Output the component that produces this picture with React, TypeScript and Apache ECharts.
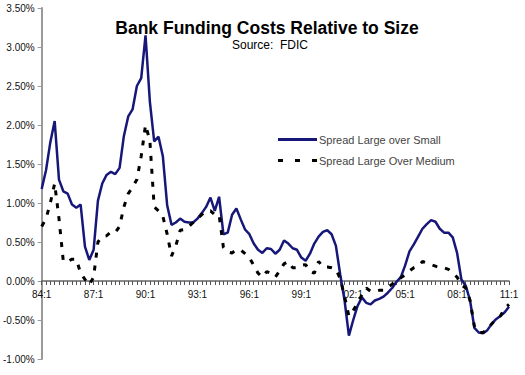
import React, { useEffect, useRef } from "react";
import * as echarts from "echarts";

const years = [
  "84", "85", "86", "87", "88", "89", "90", "91", "92", "93", "94", "95", "96", "97",
  "98", "99", "00", "01", "02", "03", "04", "05", "06", "07", "08", "09", "10", "11",
];
const quarters: string[] = [];
years.forEach((y, yi) => {
  for (let q = 1; q <= 4; q++) {
    if (yi === years.length - 1 && q > 1) break;
    quarters.push(`${y}:${q}`);
  }
});

const titleText = "Bank Funding Costs Relative to Size";
const sourceText = "Source:  FDIC";
const seriesNames = ["Spread Large over Small", "Spread Large Over Medium"];

// values in percent, quarterly 84:1 .. 11:1
const largeOverSmall = [
  1.18, 1.42, 1.78, 2.05, 1.3, 1.15, 1.12, 0.98, 0.94, 0.98,
  0.44, 0.27, 0.4, 1.03, 1.25, 1.36, 1.4, 1.37, 1.45, 1.86,
  2.11, 2.2, 2.5, 2.6, 3.15, 2.3, 1.79, 1.85, 1.6, 0.97,
  0.72, 0.75, 0.8, 0.76, 0.75, 0.75, 0.8, 0.87, 0.95, 1.07,
  0.9, 1.08, 0.6, 0.62, 0.85, 0.93, 0.79, 0.66, 0.6, 0.48,
  0.4, 0.36, 0.42, 0.41, 0.35, 0.4, 0.52, 0.48, 0.42, 0.4,
  0.3, 0.26, 0.35, 0.48, 0.57, 0.63, 0.65, 0.6, 0.45, 0.08,
  -0.25, -0.7, -0.5, -0.32, -0.21, -0.28, -0.3, -0.25, -0.23, -0.2,
  -0.15, -0.09, -0.01, 0.05, 0.2, 0.38, 0.47, 0.57, 0.67, 0.73,
  0.78, 0.76, 0.67, 0.62, 0.62, 0.56, 0.36, 0.02, -0.06, -0.25,
  -0.6, -0.66, -0.67, -0.63, -0.55, -0.49, -0.45, -0.4, -0.33,
];
const largeOverMedium = [
  0.7, 0.8, 1.0, 1.25, 0.8, 0.25, 0.25, 0.28, 0.28, 0.1,
  0.02, -0.05, 0.05, 0.5, 0.57, 0.58, 0.63, 0.62, 0.7, 0.95,
  1.12, 1.2, 1.3, 1.6, 2.0, 1.8, 0.95, 0.9, 0.83, 0.6,
  0.32, 0.45, 0.65, 0.66, 0.7, 0.75, 0.8, 0.85, 0.9, 0.9,
  0.85, 0.85, 0.43, 0.37, 0.36, 0.4, 0.4, 0.35, 0.3, 0.2,
  0.1, 0.05, 0.12, 0.1, 0.05, 0.13, 0.22, 0.25, 0.17, 0.17,
  0.2, 0.21, 0.12, 0.1, 0.25, 0.18, 0.18, 0.17, 0.15, 0.03,
  -0.2, -0.45, -0.38, -0.28, -0.18, -0.09, -0.13, -0.13, -0.12, -0.12,
  -0.08, -0.04, 0.01, 0.04, 0.08, 0.13, 0.17, 0.19, 0.25, 0.23,
  0.21, 0.19, 0.17, 0.17, 0.15, 0.1, 0.05, -0.05, -0.09, -0.25,
  -0.58, -0.66, -0.66, -0.62, -0.55, -0.49, -0.45, -0.35, -0.3,
];

const FONT = "'Liberation Sans', Arial, sans-serif";
const NAVY = "#17177a";

export default function App() {
  const ref = useRef<HTMLDivElement>(null);
  useEffect(() => {
    if (!ref.current) return;
    const chart = echarts.init(ref.current, null, { renderer: "svg" });
    chart.setOption({
      animation: false,
      backgroundColor: "#ffffff",
      grid: { left: 41, right: 16, top: 8, bottom: 16, containLabel: false },
      graphic: [
        {
          type: "text",
          x: 267,
          y: 28,
          style: {
            text: titleText,
            fontSize: 17.5,
            fontWeight: "bold",
            fontFamily: FONT,
            fill: "#000",
            textAlign: "center",
            textVerticalAlign: "middle",
          },
        },
        {
          type: "text",
          x: 270,
          y: 45,
          style: {
            text: sourceText,
            fontSize: 12,
            fontFamily: FONT,
            fill: "#000",
            textAlign: "center",
            textVerticalAlign: "middle",
          },
        },
        {
          type: "line",
          shape: { x1: 278, y1: 139.5, x2: 317, y2: 139.5 },
          style: { stroke: NAVY, lineWidth: 3 },
        },
        {
          type: "text",
          x: 319,
          y: 139.5,
          style: {
            text: seriesNames[0],
            fontSize: 11,
            fontFamily: FONT,
            fill: "#444",
            textAlign: "left",
            textVerticalAlign: "middle",
          },
        },
        {
          type: "line",
          shape: { x1: 278, y1: 160.5, x2: 318, y2: 160.5 },
          style: { stroke: "#000", lineWidth: 3, lineDash: [5, 12] },
        },
        {
          type: "text",
          x: 319,
          y: 160.5,
          style: {
            text: seriesNames[1],
            fontSize: 11,
            fontFamily: FONT,
            fill: "#444",
            textAlign: "left",
            textVerticalAlign: "middle",
          },
        },
      ],
      xAxis: {
        type: "category",
        data: quarters,
        boundaryGap: false,
        position: "bottom",
        offset: -78,
        axisLine: { onZero: false, lineStyle: { color: "#666", width: 1.5 } },
        axisTick: { interval: 0, length: 4, lineStyle: { color: "#555" } },
        axisLabel: {
          interval: 11,
          margin: 8,
          fontSize: 10,
          color: "#111",
          fontFamily: FONT,
        },
        splitLine: { show: false },
      },
      yAxis: {
        type: "value",
        min: -1,
        max: 3.5,
        interval: 0.5,
        axisLine: { show: true, lineStyle: { color: "#9a9a9a", width: 2 } },
        axisTick: { show: true, length: 4, lineStyle: { color: "#9a9a9a" } },
        axisLabel: {
          formatter: (v: number) => v.toFixed(2) + "%",
          fontSize: 10,
          color: "#111",
          fontFamily: FONT,
          margin: 7,
        },
        splitLine: { show: false },
      },
      series: [
        {
          name: seriesNames[0],
          type: "line",
          data: largeOverSmall,
          symbol: "none",
          lineStyle: { color: NAVY, width: 2.5 },
          itemStyle: { color: NAVY },
        },
        {
          name: seriesNames[1],
          type: "line",
          data: largeOverMedium,
          symbol: "none",
          lineStyle: { color: "#000", width: 3, type: [5, 8] },
          itemStyle: { color: "#000" },
        },
      ],
    });
    return () => chart.dispose();
  }, []);
  return (
    <div
      ref={ref}
      style={{ position: "absolute", left: 0, top: 0, width: 525, height: 375 }}
    />
  );
}
